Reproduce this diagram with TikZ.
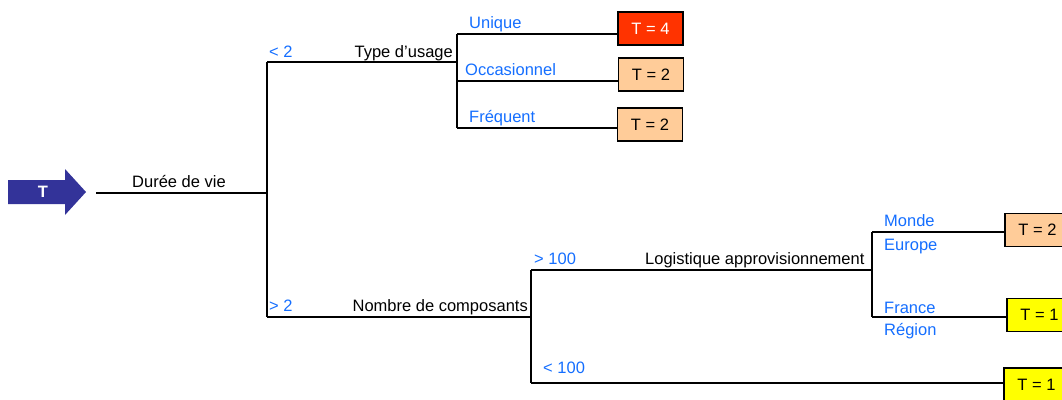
\documentclass[tikz,border=0pt]{standalone}
\usepackage{fontspec}
\setmainfont{Liberation Sans}
\definecolor{lblblue}{RGB}{20,110,255}
\definecolor{arrowblue}{RGB}{51,51,153}
\definecolor{boxred}{RGB}{255,51,0}
\definecolor{boxpeach}{RGB}{255,204,153}
\definecolor{boxyellow}{RGB}{255,255,0}
\begin{document}
\begin{tikzpicture}[x=1pt,y=-1pt,
  txt/.style={inner sep=0pt,font=\fontsize{16.5}{19}\selectfont},
  lbl/.style={txt,text=lblblue},
  leaf/.style={draw=black,line width=1.4pt,minimum width=65pt,minimum height=33pt,inner sep=0pt,font=\fontsize{16.5}{19}\selectfont},
  conn/.style={line width=1.4pt,draw=black}]
\useasboundingbox (0,0) rectangle (1062,399);
\clip (0,0) rectangle (1062,399);
% arrow
\fill[arrowblue] (8,180) -- (65,180) -- (65,169) -- (86,192) -- (65,215) -- (65,204) -- (8,204) -- cycle;
\node[txt,text=white,font=\fontsize{16.5}{19}\selectfont\bfseries] (T) at (43,192) {T};
% coordinates
\coordinate (s) at (96,193);
\coordinate (j1) at (267,193);
\coordinate (j1a) at (267,62);
\coordinate (j1b) at (267,317);
\coordinate (j2) at (457,62);
\coordinate (j2a) at (457,34);
\coordinate (j2b) at (457,81);
\coordinate (j2c) at (457,128);
\coordinate (j3) at (531,317);
\coordinate (j3a) at (531,270);
\coordinate (j3b) at (531,383);
\coordinate (j4) at (872,270);
\coordinate (j4a) at (872,232);
\coordinate (j4b) at (872,317);
% leaves
\node[leaf,fill=boxred,text=white] (b1) at (650.5,28.5) {T = 4};
\node[leaf,fill=boxpeach] (b2) at (651,74.5) {T = 2};
\node[leaf,fill=boxpeach] (b3) at (650,124.5) {T = 2};
\node[leaf,fill=boxpeach] (b4) at (1037.5,230) {T = 2};
\node[leaf,fill=boxyellow] (b5) at (1039.5,315) {T = 1};
\node[leaf,fill=boxyellow] (b6) at (1036.5,384.5) {T = 1};
% connectors
\draw[conn] (s) -- (j1);
\draw[conn] (j1a) -- (j1b);
\draw[conn] (j1a) -- (j2);
\draw[conn] (j1b) -- (j3);
\draw[conn] (j2a) -- (j2c);
\draw[conn] (j2a) -- (j2a -| b1.west);
\draw[conn] (j2b) -- (j2b -| b2.west);
\draw[conn] (j2c) -- (j2c -| b3.west);
\draw[conn] (j3a) -- (j3b);
\draw[conn] (j3a) -- (j4);
\draw[conn] (j3b) -- (j3b -| b6.west);
\draw[conn] (j4a) -- (j4b);
\draw[conn] (j4a) -- (j4a -| b4.west);
\draw[conn] (j4b) -- (j4b -| b5.west);
% texts
\node[txt,anchor=base west] (t1) at (132,187) {Durée de vie};
\node[txt,anchor=base east] (t2) at (453,57) {Type d’usage};
\node[txt,anchor=base east] (t3) at (528,311) {Nombre de composants};
\node[txt,anchor=base west] (t4) at (645,264) {Logistique approvisionnement};
\node[lbl,anchor=base west] (l1) at (269,57) {< 2};
\node[lbl,anchor=base west] (l2) at (269,311) {> 2};
\node[lbl,anchor=base west] (l3) at (469,28) {Unique};
\node[lbl,anchor=base west] (l4) at (465,75) {Occasionnel};
\node[lbl,anchor=base west] (l5) at (469,122) {Fréquent};
\node[lbl,anchor=base west] (l6) at (534,264) {> 100};
\node[lbl,anchor=base west] (l7) at (543,373) {< 100};
\node[lbl,anchor=base west] (l8) at (884,226) {Monde};
\node[lbl,anchor=base west] (l9) at (884,250) {Europe};
\node[lbl,anchor=base west] (l10) at (884,313) {France};
\node[lbl,anchor=base west] (l11) at (884,335) {Région};
\end{tikzpicture}
\end{document}
